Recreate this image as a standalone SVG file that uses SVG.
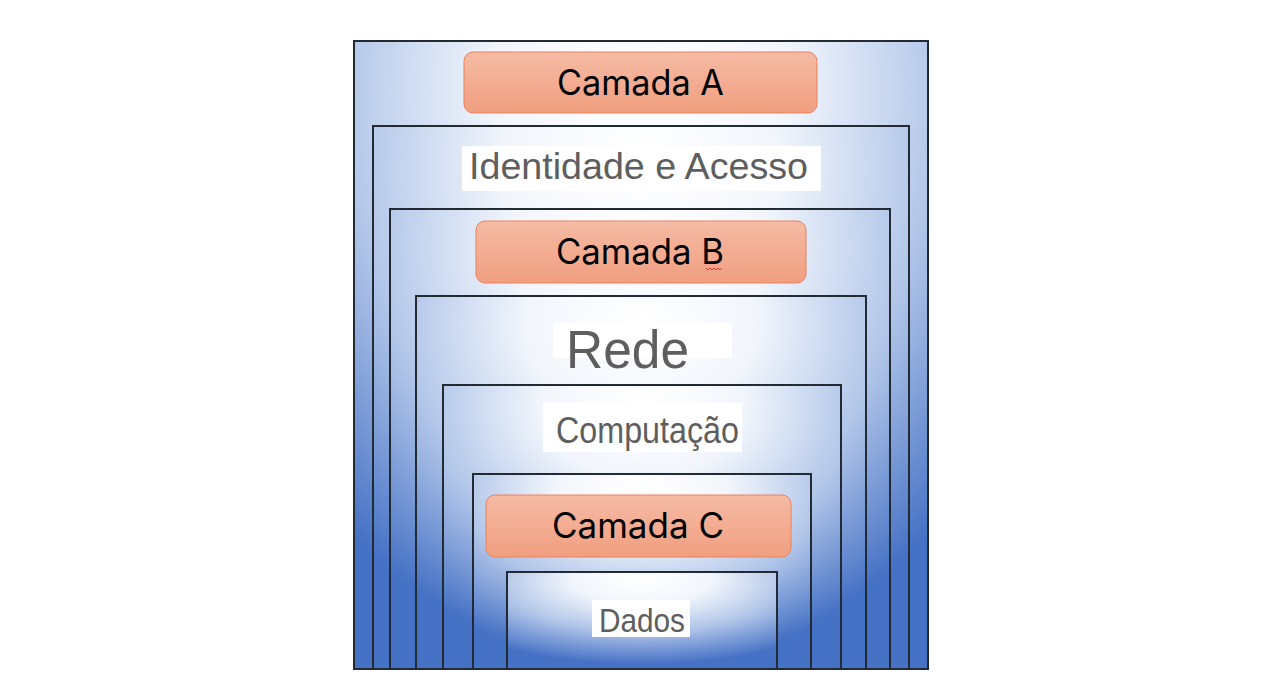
<svg xmlns="http://www.w3.org/2000/svg" width="1280" height="697" viewBox="0 0 1280 697">
<defs>
<radialGradient id="bg" cx="0.5" cy="0.1" r="0.85" fx="0.5" fy="0.06">
<stop offset="0" stop-color="#ffffff"/>
<stop offset="0.3" stop-color="#f2f6fc"/>
<stop offset="0.62" stop-color="#b2c6e9"/>
<stop offset="1" stop-color="#4672c5"/>
</radialGradient>
<linearGradient id="og" x1="0" y1="0" x2="0" y2="1">
<stop offset="0" stop-color="#f5bba4"/>
<stop offset="1" stop-color="#f19e80"/>
</linearGradient>
<style>
.layer{fill:url(#bg);stroke:#222a33;stroke-width:2}
.orange{fill:url(#og);stroke:#e9825c;stroke-width:1}
.ot{font-family:Inter,"Open Sans",sans-serif;font-size:35px;fill:#000}
.wb{fill:#ffffff}
.gt{font-family:"Liberation Sans",Arial,sans-serif;fill:#5e5e5e}
</style>
</defs>
<g id="layer-outer"><rect class="layer" x="354" y="41" width="574" height="628"/></g>
<g id="layer-identidade"><rect class="layer" x="373" y="126" width="536" height="543"/></g>
<g id="layer-b"><rect class="layer" x="390" y="209" width="500" height="460"/></g>
<g id="layer-rede"><rect class="layer" x="416" y="296" width="450" height="373"/></g>
<g id="layer-computacao"><rect class="layer" x="443" y="385" width="398" height="284"/></g>
<g id="layer-c"><rect class="layer" x="473" y="474" width="338" height="195"/></g>
<g id="layer-dados"><rect class="layer" x="507" y="572" width="270" height="97"/></g>

<g id="camada-a"><rect class="orange" x="464" y="52" width="353" height="61" rx="9"/><text class="ot" x="557" y="95" textLength="167" lengthAdjust="spacingAndGlyphs">Camada A</text></g>
<g id="identidade"><rect class="wb" x="462" y="146" width="359" height="45"/><text class="gt" x="469" y="179" font-size="37" textLength="339" lengthAdjust="spacingAndGlyphs">Identidade e Acesso</text></g>
<g id="camada-b"><rect class="orange" x="476" y="221" width="330" height="62" rx="9"/><text class="ot" x="556" y="264" textLength="168" lengthAdjust="spacingAndGlyphs">Camada B</text>
<path d="M706 268 l2 2 l2 -2 l2 2 l2 -2 l2 2 l2 -2 l2 2 l2 -2" fill="none" stroke="#e02020" stroke-width="0.8"/></g>
<g id="rede"><rect class="wb" x="553" y="323" width="179" height="35"/><text class="gt" x="566" y="368" font-size="54" textLength="123" lengthAdjust="spacingAndGlyphs">Rede</text></g>
<g id="computacao"><rect class="wb" x="543" y="403" width="199" height="49"/><text class="gt" x="556" y="443" font-size="37" textLength="183" lengthAdjust="spacingAndGlyphs">Computação</text></g>
<g id="camada-c"><rect class="orange" x="486" y="495" width="305" height="62" rx="9"/><text class="ot" x="552" y="538" textLength="172" lengthAdjust="spacingAndGlyphs">Camada C</text></g>
<g id="dados"><rect class="wb" x="592" y="600" width="98" height="37"/><text class="gt" x="599" y="632" font-size="33" textLength="86" lengthAdjust="spacingAndGlyphs">Dados</text></g>
<g id="connectors"/>
</svg>
